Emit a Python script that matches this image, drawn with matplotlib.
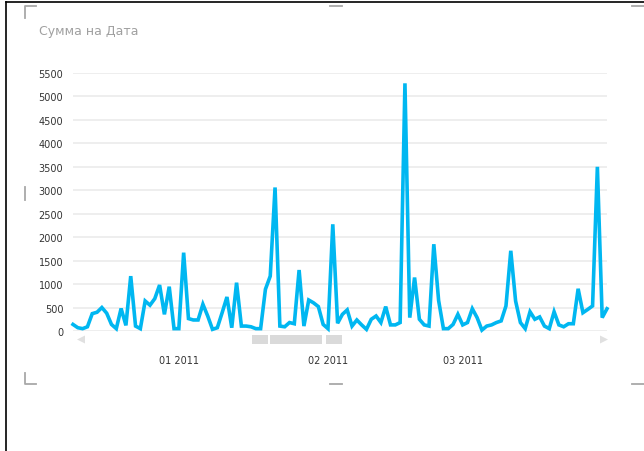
import matplotlib
matplotlib.use('Agg')
import matplotlib.pyplot as plt
from matplotlib.lines import Line2D
from matplotlib.patches import Rectangle, Polygon
import pandas as pd

# Сумма по дням
values = [140, 70, 50, 90, 370, 400, 500, 380, 140, 50, 480, 120, 1170, 105,
          50, 640, 550, 690, 980, 355, 945, 50, 50, 1670, 265, 235, 235, 570, 320,
          35, 70, 390, 725, 70, 1030, 105, 105, 90, 50, 50,
          890, 1170, 3060, 105, 90, 180, 155, 1300, 105, 660, 600, 520, 140, 50,
          2275, 165, 355, 450, 105, 235, 130, 35, 250, 320, 180, 520, 130, 130,
          180, 5280, 285, 1140, 250, 130, 105, 1850,
          650, 50, 50, 140, 355, 130, 180, 475, 285, 20, 105, 130, 180, 215, 535,
          1710, 640, 180, 50, 410, 250, 300, 105, 50, 410, 130, 90, 155, 155, 900,
          390, 460, 535, 3500, 285, 475]
dates = pd.date_range('2010-12-25', periods=len(values), freq='D')

yticks = list(range(0, 5501, 500))
month_ticks = pd.to_datetime(['2011-01-16', '2011-02-16', '2011-03-16'])
month_labels = ['01 2011', '02 2011', '03 2011']

title = 'Сумма на Дата'
line_color = '#00b7f1'
grid_color = '#ebebeb'
handle_color = '#a8a8a8'

fig = plt.figure(figsize=(6.44, 4.52), dpi=100)
W, H = 644, 452

def fx(px):
    return px / W

def fy(py):
    return 1 - py / H

ax = fig.add_axes([fx(73), fy(332), fx(607) - fx(73), fy(74) - fy(332)])
ax.plot(dates, values, color=line_color, lw=2.6, solid_joinstyle='miter', clip_on=False, zorder=3)
ax.set_xlim(dates[0], dates[-1])
ax.set_ylim(0, 5500)
ax.set_yticks(yticks)
ax.set_yticklabels([str(v) for v in yticks])
ax.set_xticks(month_ticks)
ax.set_xticklabels(month_labels)
ax.tick_params(axis='y', length=0, pad=7, labelsize=7, labelcolor='#333333')
ax.tick_params(axis='x', length=0, pad=17, labelsize=7, labelcolor='#333333')
ax.grid(axis='y', color=grid_color, lw=1.2)
ax.grid(axis='x', visible=False)
for s in ax.spines.values():
    s.set_visible(False)

fig.text(fx(39), fy(32), title, fontsize=9, color='#a0a0a0', va='center', ha='left')

# полоса прокрутки
for x0, x1 in [(252, 268), (270, 322), (326, 342)]:
    fig.patches.append(Rectangle((fx(x0), fy(345)), fx(x1) - fx(x0), fy(336) - fy(345),
                                 transform=fig.transFigure, color='#dadada', lw=0))
fig.patches.append(Polygon([(fx(77), fy(340.5)), (fx(85), fy(336.5)), (fx(85), fy(344.5))],
                           closed=True, transform=fig.transFigure, color='#e0e0e0', lw=0))
fig.patches.append(Polygon([(fx(608), fy(340.5)), (fx(600), fy(336.5)), (fx(600), fy(344.5))],
                           closed=True, transform=fig.transFigure, color='#e0e0e0', lw=0))

# рамка и маркеры выделения
def seg(xs, ys, c, w):
    fig.lines.append(Line2D([fx(x) for x in xs], [fy(y) for y in ys],
                            transform=fig.transFigure, color=c, lw=w))

seg([6, 6], [3, 452], 'black', 1.2)
seg([6, 644], [3, 3], 'black', 1.2)
seg([25, 25, 36], [19, 7, 7], handle_color, 1.3)
seg([25, 25, 36], [374, 385, 385], handle_color, 1.3)
seg([330, 342], [7, 7], handle_color, 1.3)
seg([330, 342], [385, 385], handle_color, 1.3)
seg([632, 644], [7, 7], handle_color, 1.3)
seg([632, 644], [385, 385], handle_color, 1.3)
seg([25, 25], [188, 201], handle_color, 1.3)

fig.savefig('out.png', dpi=100)
